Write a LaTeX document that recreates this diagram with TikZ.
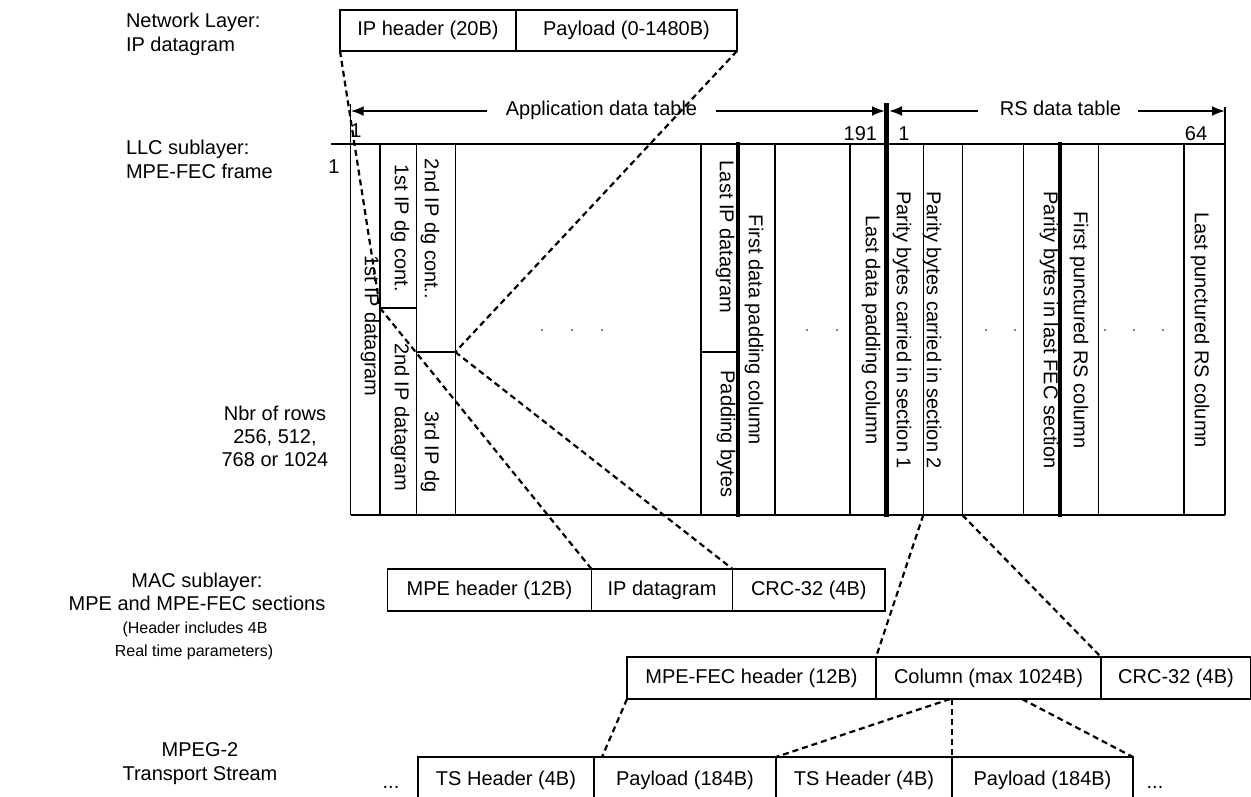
\documentclass[tikz,border=0pt]{standalone}
\usepackage{fontspec}
\setmainfont{Liberation Sans}
\usetikzlibrary{arrows.meta}
\begin{document}
\begin{tikzpicture}[x=1pt,y=-1pt,
  every node/.style={font=\fontsize{20}{24}\selectfont, inner sep=0pt, outer sep=0pt},
  small/.style={font=\fontsize{16}{19}\selectfont},
  grid/.style={line width=1.2pt},
  heavy/.style={line width=4.5pt},
  cell/.style={draw, line width=1.2pt, minimum height=42pt, anchor=north west},
  tscell/.style={cell, minimum height=46pt},
  link/.style={line width=2.2pt, dash pattern=on 6pt off 4pt},
  vtext/.style={rotate=-90},
  dim/.style={line width=2pt, -{Latex[length=13pt,width=10pt]}},
  lbl/.style={anchor=base west},
  clbl/.style={anchor=base},
  dot/.style={fill=black, circle, minimum size=1.8pt}
]
\useasboundingbox (0,0) rectangle (1251,796);
\clip (0,0) rectangle (1251,796);

% ---------- layer labels ----------
\node[lbl] (nl1) at (126,27) {Network Layer:};
\node[lbl] (nl2) at (126,51) {IP datagram};
\node[lbl] (llc1) at (126,154) {LLC sublayer:};
\node[lbl] (llc2) at (126,178) {MPE-FEC frame};
\node[clbl] (rows1) at (275,420) {Nbr of rows};
\node[clbl] (rows2) at (275,443) {256, 512,};
\node[clbl] (rows3) at (275,466) {768 or 1024};
\node[clbl] (mac1) at (197,587) {MAC sublayer:};
\node[clbl] (mac2) at (197,610) {MPE and MPE-FEC sections};
\node[clbl,small] (mac3) at (195,633) {(Header includes 4B};
\node[clbl,small] (mac4) at (194,656) {Real time parameters)};
\node[clbl] (ts1) at (200,756) {MPEG-2};
\node[clbl] (ts2) at (200,780) {Transport Stream};

% ---------- IP datagram ----------
\node[cell, minimum width=176pt, minimum height=41pt] (iph) at (340,10) {IP header (20B)};
\node[cell, minimum width=221pt, minimum height=41pt] (ipp) at (516,10) {Payload (0-1480B)};

% ---------- MPE-FEC frame grid ----------
\draw[grid] (331,144) -- (1225,144);
\draw[grid] (350.7,515) -- (1225,515);
\draw[grid] (350.7,104) -- (350.7,515);
\draw[grid] (1225,107) -- (1225,515);
\foreach \cx in {380,416.7,455.3,701,775,850,923.3,962.3,1023.3,1098.3,1184}
  \draw[grid] (\cx,144) -- (\cx,515);
\draw[grid] (380,308) -- (416.7,308);
\draw[grid] (416.7,352) -- (455.3,352);
\draw[grid] (701,352) -- (738,352);

% column and row numbers
\node[clbl] (n1) at (356,137) {1};
\node[anchor=base east] (n191) at (877,140) {191};
\node[clbl] (n1rs) at (904,140) {1};
\node[clbl] (n64) at (1196,140) {64};
\node[clbl] (r1) at (334,173) {1};

% table extents
\node[clbl] (adt) at (601.5,115.5) {Application data table};
\node[clbl] (rsdt) at (1060.5,115) {RS data table};
\draw[dim] (487,111) -- (350.7,111);
\draw[dim] (716,111) -- (885,111);
\draw[dim] (978,111) -- (889,111);
\draw[dim] (1138,111) -- (1225,111);

% column contents
\node[vtext] (c1) at (370,326) {1st IP datagram};
\node[vtext] (c2a) at (400,228) {1st IP dg cont.};
\node[vtext] (c2b) at (400,417) {2nd IP datagram};
\node[vtext] (c3a) at (430,229) {2nd IP dg cont..};
\node[vtext] (c3b) at (430,452) {3rd IP dg};
\node[vtext] (c5a) at (725,237) {Last IP datagram};
\node[vtext] (c5b) at (726,434) {Padding bytes};
\node[vtext] (c6) at (754,330) {First data padding column};
\node[vtext] (c8) at (871,330) {Last data padding column};
\node[vtext] (c9) at (902,330) {Parity bytes carried in section 1};
\node[vtext] (c10) at (932,330) {Parity bytes carried in section 2};
\node[vtext] (c12) at (1049,330) {Parity bytes in last FEC section};
\node[vtext] (c13) at (1079,330) {First punctured RS column};
\node[vtext] (c15) at (1200,330) {Last punctured RS column};

% continuation dots
\foreach \dx in {542,572,602,807,837,986,1015,1105,1134,1163}
  \node[dot] at (\dx,330) {};

% section boundaries
\draw[heavy] (738,142) -- (738,517);
\draw[heavy] (886.7,103) -- (886.7,517);
\draw[heavy] (1060,142) -- (1060,517);

% ---------- MPE section ----------
\node[cell, minimum width=204pt] (mpeh) at (387.5,569) {MPE header (12B)};
\node[cell, minimum width=141.1pt] (ipdg) at (591.5,569) {IP datagram};
\node[cell, minimum width=152.4pt] (mcrc) at (732.6,569) {CRC-32 (4B)};

% ---------- MPE-FEC section ----------
\node[cell, minimum width=249pt] (fech) at (627,657) {MPE-FEC header (12B)};
\node[cell, minimum width=225pt] (fcol) at (876,657) {Column (max 1024B)};
\node[cell, minimum width=150pt] (fcrc) at (1101,657) {CRC-32 (4B)};

% ---------- transport stream ----------
\node[tscell, minimum width=176pt] (tsh1) at (418,757) {TS Header (4B)};
\node[tscell, minimum width=182pt] (tsp1) at (594,757) {Payload (184B)};
\node[tscell, minimum width=176pt] (tsh2) at (776,757) {TS Header (4B)};
\node[tscell, minimum width=181pt] (tsp2) at (952,757) {Payload (184B)};
\node[clbl] (dl) at (391,788) {...};
\node[clbl] (dr) at (1155,788) {...};

% ---------- mapping links ----------
\coordinate (split2) at (380,308);
\coordinate (split3) at (455.3,352);
\coordinate (par1) at (923.3,515);
\coordinate (par2) at (962.3,515);
\coordinate (colA) at (tsp2.north west |- fcol.south);
\draw[link] (iph.south west) -- (split2);
\draw[link] (split2) -- (mpeh.north east);
\draw[link] (ipp.south east) -- (split3);
\draw[link] (split3) -- (ipdg.north east);
\draw[link] (par1) -- (fech.north east);
\draw[link] (par2) -- (fcol.north east);
\draw[link] (fech.south west) -- ([xshift=8pt]tsp1.north west);
\draw[link] ([xshift=-2pt]colA) -- (tsh2.north west);
\draw[link] (colA) -- (tsp2.north west);
\draw[link] ([xshift=146pt]fcol.south west) -- (tsp2.north east);
\end{tikzpicture}
\end{document}
